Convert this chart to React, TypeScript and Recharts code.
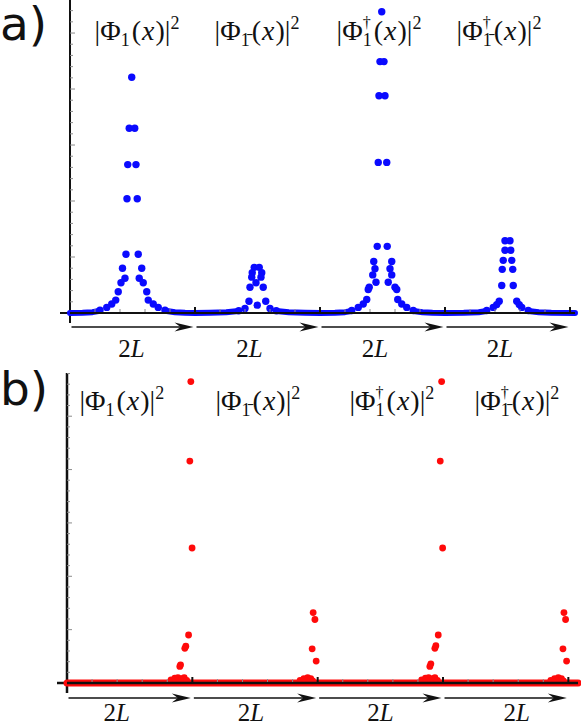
import React from "react";
import { ScatterChart, Scatter, XAxis, YAxis, ReferenceLine } from "recharts";

// x is measured in cells of width 2L, y in the axis' own (unlabelled) units

// a) blue, peaks sit in the middle of each cell
const peakA1: [number, number][] = [
  [0.494, 4.21], [0.474, 3.3], [0.518, 3.3], [0.462, 2.65], [0.528, 2.65],
  [0.456, 2.04], [0.538, 2.04], [0.448, 1.05], [0.546, 1.05], [0.42, 0.8],
  [0.574, 0.8], [0.44, 0.62], [0.554, 0.62], [0.408, 0.54], [0.586, 0.54],
  [0.386, 0.38], [0.614, 0.38], [0.366, 0.23], [0.626, 0.23], [0.334, 0.16],
  [0.666, 0.16], [0.294, 0.1], [0.706, 0.1], [0.24, 0.05], [0.76, 0.05],
];
const peakA2: [number, number][] = [
  [1.474, 0.815], [1.514, 0.815], [1.458, 0.72], [1.534, 0.72], [1.454, 0.64],
  [1.528, 0.64], [1.488, 0.54], [1.44, 0.46], [1.546, 0.46], [1.432, 0.21],
  [1.566, 0.21], [1.498, 0.14], [1.4, 0.08], [1.6, 0.08], [1.35, 0.04],
  [1.65, 0.04],
];
const peakA3: [number, number][] = [
  [2.494, 5.38], [2.48, 4.49], [2.512, 4.49], [2.472, 3.88], [2.52, 3.88],
  [2.466, 2.69], [2.534, 2.69], [2.458, 1.19], [2.538, 1.19], [2.43, 0.92],
  [2.574, 0.92], [2.44, 0.79], [2.56, 0.79], [2.422, 0.68], [2.574, 0.68],
  [2.448, 0.55], [2.546, 0.55], [2.394, 0.46], [2.6, 0.46], [2.386, 0.42],
  [2.614, 0.42], [2.374, 0.24], [2.622, 0.24], [2.346, 0.16], [2.654, 0.16],
  [2.306, 0.1], [2.694, 0.1], [2.254, 0.045], [2.746, 0.045],
];
const peakA4: [number, number][] = [
  [3.48, 1.29], [3.52, 1.29], [3.48, 1.12], [3.526, 1.12], [3.466, 0.94],
  [3.534, 0.94], [3.458, 0.78], [3.542, 0.78], [3.454, 0.49], [3.546, 0.49],
  [3.434, 0.21], [3.574, 0.21], [3.414, 0.15], [3.594, 0.15], [3.386, 0.1],
  [3.614, 0.1], [3.334, 0.045], [3.666, 0.045],
];
// the dense near-zero samples between the peaks
const tailsA: [number, number][][] = [
  [[0, 0], [0.1, 0.005], [0.18, 0.015], [0.24, 0.04]],
  [[0.76, 0.04], [0.84, 0.015], [0.92, 0.005], [1.0, 0], [1.12, 0.005], [1.25, 0.015], [1.35, 0.035]],
  [[1.65, 0.035], [1.75, 0.015], [1.88, 0.005], [2.0, 0], [2.12, 0.005], [2.2, 0.015], [2.254, 0.035]],
  [[2.746, 0.035], [2.82, 0.015], [2.9, 0.005], [3.0, 0], [3.15, 0.005], [3.27, 0.015], [3.334, 0.035]],
  [[3.666, 0.035], [3.75, 0.015], [3.85, 0.005], [4.04, 0]],
];

// b) red, peaks pushed against the right edge of each cell
const peakB1: [number, number][] = [
  [0.988, 5.65], [0.98, 4.16], [0.998, 2.53], [0.97, 0.9], [0.948, 0.69],
  [0.94, 0.65], [0.906, 0.34], [0.9, 0.31], [0.83, 0.06], [0.86, 0.09],
  [0.885, 0.1], [0.915, 0.08], [0.935, 0.1], [0.955, 0.05],
];
const peakB2: [number, number][] = [
  [1.964, 1.32], [1.978, 1.19], [1.956, 0.64], [1.988, 0.41], [1.86, 0.05],
  [1.89, 0.08], [1.92, 0.1], [1.945, 0.08], [1.96, 0.04],
];
const peakB3: [number, number][] = [
  [2.989, 5.65], [2.978, 4.16], [2.997, 2.53], [2.962, 0.9], [2.943, 0.7],
  [2.935, 0.65], [2.903, 0.36], [2.895, 0.31], [2.83, 0.06], [2.86, 0.09],
  [2.885, 0.1], [2.915, 0.08], [2.935, 0.1], [2.955, 0.05],
];
const peakB4: [number, number][] = [
  [3.965, 1.32], [3.978, 1.19], [3.957, 0.64], [3.986, 0.41], [3.86, 0.05],
  [3.89, 0.08], [3.92, 0.1], [3.945, 0.08], [3.96, 0.04],
];
const tailB: [number, number][] = [[0, 0], [1, 0], [2, 0], [3, 0], [4.077, 0]];

const cellCenters = [0.5, 1.5, 2.5, 3.5];
const labelPosA = [0.536, 1.496, 2.472, 3.432];
const labelPosB = [0.437, 1.523, 2.592, 3.59];
const labelKinds = [
  { bar: false, dagger: false },
  { bar: true, dagger: false },
  { bar: false, dagger: true },
  { bar: true, dagger: true },
];
const xTicks = Array.from({ length: 20 }, (_, i) => +((i + 1) * 0.2).toFixed(1));
const yTicksA = Array.from({ length: 27 }, (_, i) => +((i + 1) * 0.2).toFixed(1));
const yTicksB = Array.from({ length: 29 }, (_, i) => +((i + 1) * 0.2).toFixed(1));

const BLUE = "#0a0aff";
const RED = "#ff0a0a";
const INK = "#111";
const SERIF = "'Liberation Serif', 'DejaVu Serif', serif";

const pts = (a: [number, number][]) => a.map(([x, y]) => ({ x, y }));
const onAxis = (xs: number[]) => xs.map((x) => ({ x, y: 0 }));

const isMajor = (v: number) => Math.abs(v - Math.round(v)) < 1e-6;

const YTick = (p: any) => (
  <line x1={p.x} x2={p.x + (isMajor(p.payload.value) ? 5 : 3)} y1={p.y} y2={p.y} stroke="#8c8c8c" strokeWidth={1} />
);

const XTick = (p: any) =>
  isMajor(p.payload.value) ? (
    <line x1={p.x} x2={p.x} y1={p.y - 6} y2={p.y + 1} stroke={INK} strokeWidth={2} />
  ) : (
    <line x1={p.x} x2={p.x} y1={p.y - 1} y2={p.y - 4} stroke="#8c8c8c" strokeWidth={1} />
  );

const ArrowTick = (p: any) => {
  const { x, y, index, half, arrowDy, textDy, textDx } = p;
  const tip = x + half - 1.5;
  const ay = y + arrowDy;
  return (
    <g>
      <line x1={x - half + 1.5} x2={tip - 12} y1={ay} y2={ay} stroke={INK} strokeWidth={1.6} />
      <path d={`M${tip},${ay} L${tip - 19},${ay - 4.5} L${tip - 13},${ay} L${tip - 19},${ay + 4.5} Z`} fill={INK} />
      <text x={x + textDx[index]} y={y + textDy} textAnchor="middle" fontFamily={SERIF} fontSize={25} fill={INK}>
        <tspan>2</tspan>
        <tspan fontStyle="italic">L</tspan>
      </text>
    </g>
  );
};

const PhiTick = (p: any) => {
  const { x, y, index, baseDy } = p;
  const { bar, dagger } = labelKinds[index] || labelKinds[0];
  return (
    <text x={x} y={y + baseDy} textAnchor="middle" fontFamily={SERIF} fontSize={28} fill={INK}>
      <tspan>|Φ</tspan>
      {dagger ? <tspan fontSize={16} dy={-12}>†</tspan> : null}
      <tspan fontSize={18} dy={dagger ? 18 : 6} dx={dagger ? -8 : 0}>{bar ? "1\u0304" : "1"}</tspan>
      <tspan dy={-6} dx={2}>(</tspan>
      <tspan fontStyle="italic" dx={1}>x</tspan>
      <tspan dx={1}>)|</tspan>
      <tspan fontSize={18} dy={-11}>2</tspan>
    </text>
  );
};

const Dot = (color: string, r: number) => (p: any) => <circle cx={p.cx} cy={p.cy} r={r} fill={color} />;
const Nothing = () => <g />;

interface PanelProps {
  peaks: [number, number][][];
  tails: [number, number][][];
  color: string;
  r: number;
  tailWidth: number;
  width: number;
  height: number;
  margin: { top: number; right: number; bottom: number; left: number };
  xMax: number;
  yMax: number;
  yTicks: number[];
  labelPos: number[];
  labelDy: number;
  arrowH: number;
  arrowDy: number;
  textDy: number;
  textDx: number[];
  axisW: number;
}

const Panel = (o: PanelProps) => {
  const plotW = o.width - o.margin.left - o.margin.right;
  const plotH = o.height - o.margin.top - o.margin.bottom - o.arrowH;
  const cellPx = plotW / o.xMax;
  const perPxY = o.yMax / plotH;
  const perPxX = o.xMax / plotW;
  return (
    <ScatterChart width={o.width} height={o.height} margin={o.margin}>
      <XAxis
        type="number"
        dataKey="x"
        domain={[0, o.xMax]}
        ticks={xTicks}
        interval={0}
        mirror
        height={1}
        axisLine={false}
        tickLine={false}
        tickSize={0}
        tickMargin={0}
        tick={(p: any) => <XTick {...p} />}
      />
      <XAxis
        xAxisId="arr"
        type="number"
        dataKey="x"
        domain={[0, o.xMax]}
        ticks={cellCenters}
        interval={0}
        height={o.arrowH}
        axisLine={false}
        tickLine={false}
        tickSize={0}
        tickMargin={0}
        tick={(p: any) => (
          <ArrowTick {...p} half={cellPx / 2} arrowDy={o.arrowDy} textDy={o.textDy} textDx={o.textDx} />
        )}
      />
      <XAxis
        xAxisId="lab"
        orientation="top"
        type="number"
        dataKey="x"
        domain={[0, o.xMax]}
        ticks={o.labelPos}
        interval={0}
        mirror
        height={1}
        axisLine={false}
        tickLine={false}
        tickSize={0}
        tickMargin={0}
        tick={(p: any) => <PhiTick {...p} baseDy={o.labelDy} />}
      />
      <YAxis
        type="number"
        dataKey="y"
        domain={[0, o.yMax]}
        ticks={o.yTicks}
        interval={0}
        mirror
        width={1}
        axisLine={false}
        tickLine={false}
        tickSize={0}
        tickMargin={0}
        tick={(p: any) => <YTick {...p} />}
      />
      <Scatter xAxisId="arr" data={onAxis(cellCenters)} shape={Nothing} isAnimationActive={false} />
      <Scatter xAxisId="lab" data={onAxis(o.labelPos)} shape={Nothing} isAnimationActive={false} />
      <ReferenceLine
        segment={[{ x: -10 * perPxX, y: 0 }, { x: 0, y: 0 }]}
        stroke={INK}
        strokeWidth={o.axisW}
        ifOverflow="visible"
      />
      <ReferenceLine
        segment={[{ x: 0, y: -10 * perPxY }, { x: 0, y: o.yMax }]}
        stroke={INK}
        strokeWidth={o.axisW}
        ifOverflow="visible"
      />
      {o.tails.map((t, i) => (
        <Scatter
          key={`t${i}`}
          data={pts(t)}
          fill={o.color}
          line={{ strokeWidth: o.tailWidth, strokeLinecap: "round", strokeLinejoin: "round" }}
          shape={Nothing}
          isAnimationActive={false}
        />
      ))}
      {o.peaks.map((pk, i) => (
        <Scatter key={`p${i}`} data={pts(pk)} fill={o.color} shape={Dot(o.color, o.r)} isAnimationActive={false} />
      ))}
      {/* the black baseline sits on top of the near-zero samples */}
      <Scatter
        data={onAxis([0, o.xMax])}
        fill={INK}
        line={{ strokeWidth: o.axisW }}
        shape={Nothing}
        isAnimationActive={false}
      />
    </ScatterChart>
  );
};

const panelLetter: React.CSSProperties = {
  position: "absolute",
  left: 0,
  fontFamily: "'DejaVu Sans', sans-serif",
  fontSize: 47,
  lineHeight: "42px",
  color: INK,
};

export default function App() {
  return (
    <div style={{ position: "absolute", left: 0, top: 0, width: 581, height: 728, background: "#fff" }}>
      <div style={{ position: "absolute", left: 0, top: 0 }}>
        <Panel
          peaks={[peakA1, peakA2, peakA3, peakA4]}
          tails={tailsA}
          color={BLUE}
          r={3.7}
          tailWidth={6}
          width={581}
          height={363}
          margin={{ top: 0, right: 6, bottom: 0, left: 70 }}
          xMax={4.04}
          yMax={5.59}
          yTicks={yTicksA}
          labelPos={labelPosA}
          labelDy={40}
          arrowH={50}
          arrowDy={14}
          textDy={44}
          textDx={[-1, -8, -7.5, -7.5]}
          axisW={2}
        />
      </div>
      <div style={{ position: "absolute", left: 0, top: 366 }}>
        <Panel
          peaks={[peakB1, peakB2, peakB3, peakB4]}
          tails={[tailB]}
          color={RED}
          r={3.4}
          tailWidth={7}
          width={581}
          height={362}
          margin={{ top: 7, right: 3, bottom: 0, left: 67 }}
          xMax={4.077}
          yMax={5.81}
          yTicks={yTicksB}
          labelPos={labelPosB}
          labelDy={37}
          arrowH={45}
          arrowDy={15}
          textDy={38}
          textDx={[-13, -4, 0, 11]}
          axisW={2.5}
        />
      </div>
      <div style={{ ...panelLetter, top: 3 }}>a)</div>
      <div style={{ ...panelLetter, top: 368 }}>b)</div>
    </div>
  );
}
